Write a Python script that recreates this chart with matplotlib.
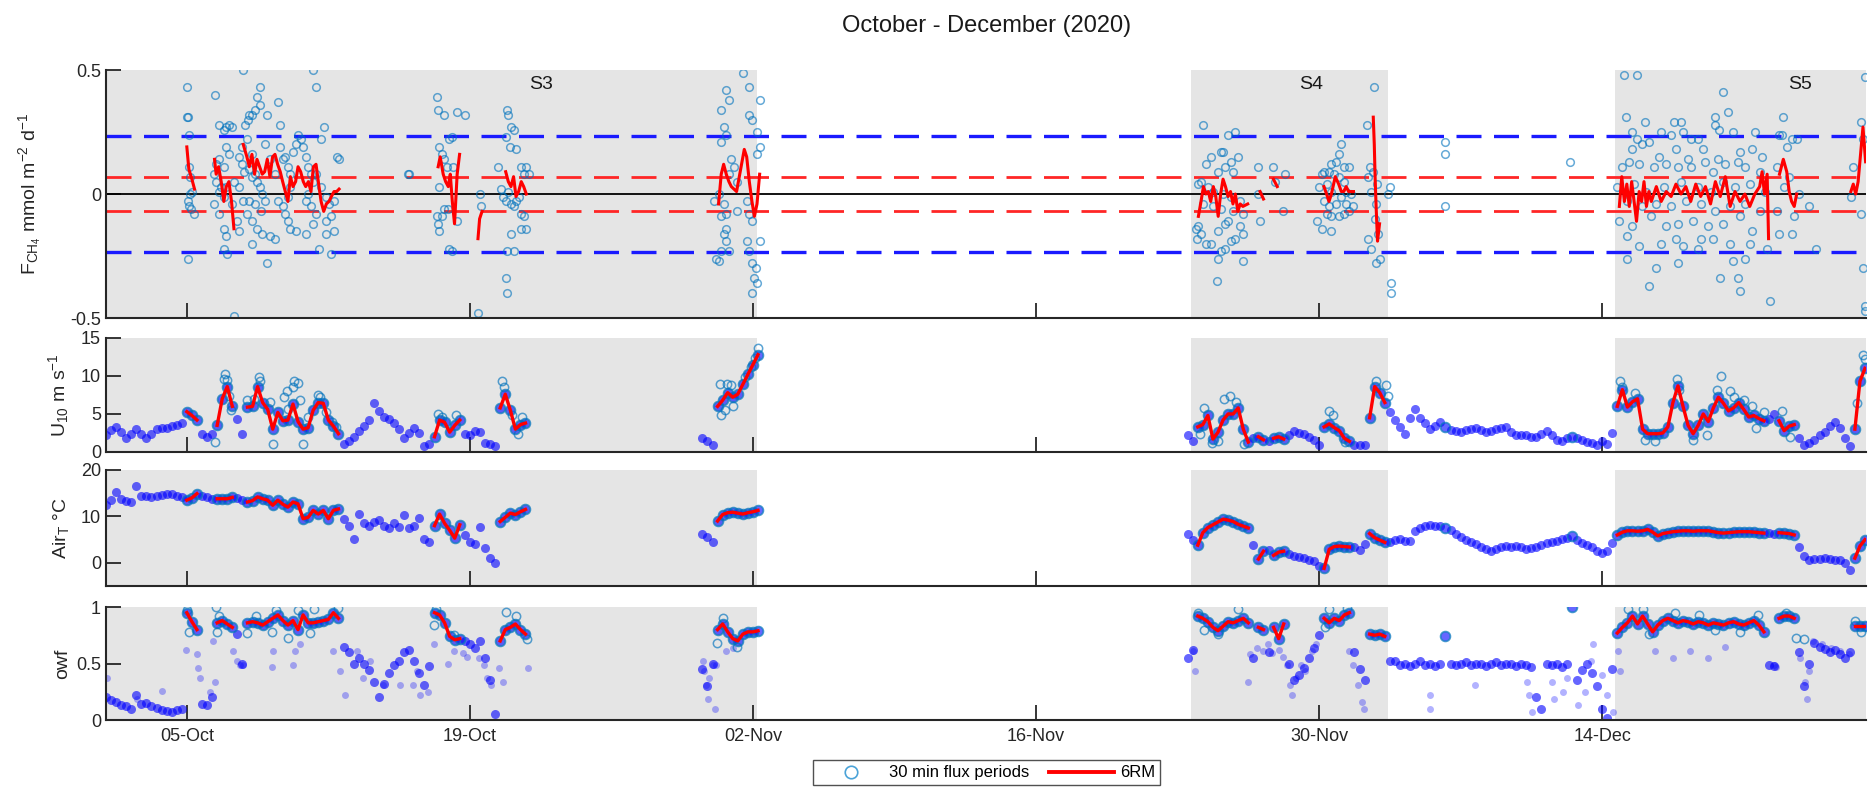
import numpy as np
import matplotlib
matplotlib.use("Agg")
import matplotlib.pyplot as plt
import matplotlib.dates as mdates
from matplotlib.lines import Line2D

plt.rcParams['font.family'] = ['Liberation Sans', 'DejaVu Sans']
plt.rcParams['mathtext.default'] = 'regular'
plt.rcParams['axes.unicode_minus'] = False
plt.rcParams['lines.scale_dashes'] = False

# ---------------------------------------------------------------------------
# Time base: days since 1 Oct 2020; met records sampled every 6 h
# ---------------------------------------------------------------------------
START = np.datetime64('2020-10-01T00:00')
STEP = 0.25
seg_start = [0.0, 29.5, 53.5]

# Wind speed at 10 m (m s-1)
u10_a = [
    2.2, 2.9, 3.3, 2.6, 1.8, 2.4, 3.0, 2.4,
    1.8, 2.3, 3.0, 3.2, 3.1, 3.4, 3.5, 3.8,
    5.3, 4.8, 4.2, 2.4, 2.0, 2.3, 3.5, 7.0,
    8.6, 6.0, 4.3, 2.4, 5.9, 6.0, 8.6, 6.5,
    5.6, 3.0, 5.2, 4.1, 4.2, 6.3, 4.0, 3.0,
    3.2, 5.5, 6.5, 6.4, 4.2, 3.4, 2.4, 1.0,
    1.4, 2.0, 2.8, 3.4, 4.2, 6.4, 5.4, 4.6,
    4.4, 3.8, 3.0, 1.8, 2.5, 3.2, 2.5, 0.8,
    1.0, 2.0, 4.2, 3.9, 2.6, 3.5, 4.2, 2.4,
    2.2, 2.8, 2.6, 1.2, 1.0, 0.8, 5.8, 7.6,
    5.5, 3.0, 3.6, 3.8,
]
u10_b = [1.9, 1.4, 0.9, 6.0, 6.8, 7.8, 7.2, 7.6, 8.9, 10.2, 11.5, 12.8]
u10_c = [
    2.2, 1.5, 3.3, 3.6, 4.8, 1.7, 2.6, 4.2,
    5.0, 5.0, 5.8, 3.0, 1.3, 1.8, 2.0, 1.6,
    1.5, 1.8, 2.0, 1.7, 2.2, 2.8, 2.5, 2.3,
    2.0, 1.6, 0.9, 3.3, 3.7, 3.2, 2.8, 1.8,
    1.4, 0.9, 0.9, 0.9, 4.5, 8.6, 7.8, 6.5,
    5.2, 4.2, 3.3, 2.4, 4.5, 5.6, 4.5, 3.8,
    3.0, 3.4, 3.9, 3.3, 2.9, 2.7, 2.6, 2.9,
    3.0, 3.1, 2.9, 2.6, 2.8, 3.0, 3.2, 3.3,
    2.6, 2.2, 2.2, 2.2, 2.0, 2.0, 2.4, 2.8,
    2.2, 1.6, 1.5, 1.8, 2.0, 1.9, 1.6, 1.3,
    1.2, 0.9, 1.4, 1.0, 2.5, 6.0, 8.2, 5.9,
    6.6, 7.0, 3.0, 2.4, 2.4, 2.4, 2.5, 3.3,
    6.5, 8.7, 6.0, 3.5, 2.4, 3.5, 5.0, 4.0,
    5.8, 7.2, 6.4, 5.4, 5.8, 6.5, 5.6, 4.6,
    4.8, 4.4, 4.1, 4.3, 5.0, 4.1, 2.8, 3.4,
    3.6, 1.9, 0.9, 1.2, 1.6, 2.2, 2.6, 3.4,
    4.0, 3.2, 1.8, 0.8, 3.0, 9.3, 11.0,
]

# Air temperature (deg C)
air_a = [
    12.5, 13.5, 15.3, 13.8, 13.3, 13.1, 16.5, 14.5,
    14.4, 14.2, 14.4, 14.6, 14.8, 14.9, 14.5, 14.2,
    13.5, 14.0, 14.9, 14.4, 14.1, 13.8, 13.8, 13.8,
    13.8, 14.1, 14.0, 13.5, 13.1, 13.4, 14.2, 13.8,
    13.5, 12.4, 13.5, 12.6, 12.0, 13.1, 12.7, 9.5,
    9.8, 11.3, 10.5, 11.3, 9.5, 11.3, 11.6, 9.5,
    8.0, 5.1, 10.6, 8.5, 8.0, 8.7, 9.3, 8.0,
    7.6, 8.5, 7.8, 10.2, 7.5, 8.0, 9.6, 5.2,
    4.5, 8.0, 10.5, 8.5, 7.0, 5.3, 8.2, 6.0,
    4.5, 4.0, 7.8, 3.2, 1.0, 0.0, 8.9, 9.8,
    10.7, 10.4, 11.0, 11.5,
]
air_b = [6.3, 5.5, 4.5, 9.0, 10.4, 10.8, 10.9, 10.7, 10.5, 10.8, 11.0, 11.3]
air_c = [
    6.2, 5.0, 3.8, 6.5, 7.6, 8.2, 8.8, 9.4,
    9.2, 8.9, 8.3, 7.9, 7.5, 3.8, 0.8, 2.5,
    2.7, 1.6, 2.3, 2.5, 1.8, 1.4, 1.2, 1.0,
    0.7, 0.3, -0.6, -1.2, 2.9, 3.5, 3.6, 3.5,
    3.4, 3.3, 2.8, 4.0, 6.3, 5.4, 4.9, 4.4,
    4.4, 4.9, 5.1, 4.6, 4.6, 6.8, 7.5, 8.0,
    8.1, 8.0, 7.9, 7.4, 7.0, 6.3, 5.6, 4.9,
    4.4, 4.0, 3.5, 3.0, 2.6, 3.0, 3.5, 3.6,
    3.4, 3.6, 3.3, 2.9, 3.1, 3.3, 3.8, 4.2,
    4.5, 4.8, 5.1, 5.4, 5.8, 5.0, 4.3, 3.8,
    3.3, 2.6, 2.2, 2.6, 4.2, 6.0, 6.6, 6.9,
    6.9, 6.8, 6.9, 7.2, 6.6, 5.8, 6.3, 6.5,
    6.7, 6.8, 6.9, 6.9, 6.8, 6.9, 6.9, 6.9,
    6.7, 6.5, 6.4, 6.5, 6.6, 6.7, 6.7, 6.7,
    6.6, 6.5, 6.4, 6.4, 6.3, 6.5, 6.4, 6.3,
    6.0, 3.5, 1.5, 0.7, 0.8, 0.9, 1.0, 0.8,
    0.7, 0.5, 0.0, -1.5, 1.0, 3.6, 5.0,
]

# Open-water fraction
owf_a = [
    0.20, 0.18, 0.16, 0.13, 0.12, 0.10, 0.22, 0.14,
    0.15, 0.12, 0.11, 0.09, 0.08, 0.07, 0.09, 0.10,
    0.95, 0.87, 0.80, 0.14, 0.13, 0.20, 0.86, 0.88,
    0.85, 0.82, 0.76, 0.50, 0.86, 0.87, 0.86, 0.84,
    0.87, 0.90, 0.93, 0.88, 0.84, 0.88, 0.80, 0.93,
    0.86, 0.86, 0.87, 0.88, 0.89, 0.95, 0.90, 0.65,
    0.60, 0.50, 0.55, 0.50, 0.44, 0.34, 0.20, 0.32,
    0.42, 0.49, 0.52, 0.60, 0.62, 0.52, 0.42, 0.31,
    0.48, 0.95, 0.93, 0.86, 0.74, 0.71, 0.72, 0.70,
    0.67, 0.64, 0.70, 0.55, 0.35, 0.05, 0.70, 0.80,
    0.82, 0.85, 0.80, 0.76,
]
owf_b = [0.45, 0.30, 0.50, 0.80, 0.85, 0.78, 0.72, 0.70, 0.76, 0.78, 0.78, 0.79]
owf_c = [
    0.55, 0.62, 0.92, 0.90, 0.87, 0.82, 0.79, 0.83,
    0.87, 0.86, 0.88, 0.90, 0.86, 0.55, 0.82, 0.80,
    0.60, 0.82, 0.72, 0.85, 0.50, 0.35, 0.40, 0.46,
    0.55, 0.64, 0.75, 0.90, 0.86, 0.90, 0.88, 0.93,
    0.95, 0.60, 0.45, 0.35, 0.76, 0.75, 0.76, 0.74,
    0.52, 0.52, 0.49, 0.50, 0.48, 0.50, 0.52, 0.49,
    0.50, 0.48, 0.50, 0.74, 0.50, 0.49, 0.50, 0.51,
    0.49, 0.50, 0.50, 0.48, 0.50, 0.51, 0.49, 0.50,
    0.50, 0.48, 0.50, 0.49, 0.47, 0.20, 0.10, 0.50,
    0.49, 0.50, 0.47, 0.50, 1.00, 0.35, 0.44, 0.50,
    0.42, 0.30, 0.10, 0.02, 0.45, 0.77, 0.82, 0.86,
    0.92, 0.85, 0.92, 0.85, 0.78, 0.84, 0.88, 0.90,
    0.88, 0.86, 0.88, 0.87, 0.85, 0.87, 0.86, 0.84,
    0.86, 0.85, 0.84, 0.86, 0.87, 0.85, 0.84, 0.86,
    0.88, 0.84, 0.78, 0.49, 0.48, 0.90, 0.92, 0.92,
    0.90, 0.60, 0.30, 0.50, 0.68, 0.65, 0.63, 0.60,
    0.62, 0.58, 0.55, 0.60, 0.83, 0.83, 0.83,
]

# Additional scattered open-water-fraction samples (day, value)
owf_scatter = [
    (0.03, 0.37), (1.52, 0.19), (2.75, 0.26), (3.96, 0.62), (4.49, 0.58),
    (4.57, 0.46), (4.65, 0.37), (5.15, 0.25), (5.31, 0.70), (5.39, 0.34),
    (6.30, 0.61), (6.47, 0.52), (6.63, 0.49), (6.80, 0.49), (8.20, 0.47),
    (8.28, 0.61), (9.27, 0.49), (9.35, 0.61), (9.60, 0.67), (11.25, 0.61),
    (11.58, 0.43), (11.83, 0.22), (12.40, 0.61), (12.73, 0.37), (13.06, 0.52),
    (13.72, 0.31), (14.55, 0.31), (15.21, 0.31), (15.37, 0.43), (15.54, 0.22),
    (15.95, 0.25), (16.20, 0.67), (16.94, 0.50), (17.19, 0.61), (17.68, 0.59),
    (17.85, 0.56), (18.46, 0.55), (18.71, 0.49), (18.87, 0.37), (19.04, 0.31),
    (19.45, 0.46), (19.62, 0.34), (20.86, 0.46), (29.52, 0.52), (29.60, 0.43),
    (29.69, 0.31), (29.77, 0.19), (29.85, 0.37), (30.02, 0.49), (30.10, 0.10),
    (30.18, 0.49), (30.68, 0.61), (31.00, 0.64), (53.75, 0.61), (53.86, 0.43),
    (56.47, 0.34), (56.58, 0.58), (56.91, 0.64), (57.23, 0.61), (57.45, 0.67),
    (57.67, 0.59), (58.00, 0.62), (58.21, 0.56), (58.43, 0.49), (58.54, 0.31),
    (58.65, 0.22), (58.87, 0.37), (59.09, 0.49), (59.30, 0.43), (59.63, 0.61),
    (59.85, 0.67), (61.48, 0.61), (61.70, 0.49), (61.92, 0.31), (62.13, 0.16),
    (62.24, 0.10), (65.51, 0.22), (65.51, 0.10), (67.69, 0.31), (70.30, 0.34),
    (70.40, 0.22), (70.52, 0.07), (71.50, 0.34), (71.60, 0.19), (72.04, 0.25),
    (72.26, 0.37), (72.80, 0.13), (73.13, 0.25), (73.46, 0.52), (73.56, 0.67),
    (74.00, 0.40), (74.22, 0.22), (74.54, 0.07), (74.76, 0.61), (74.87, 0.43),
    (76.61, 0.61), (77.48, 0.55), (78.35, 0.61), (79.23, 0.55), (80.10, 0.65),
    (82.49, 0.49), (82.60, 0.47), (83.80, 0.55), (84.02, 0.34), (84.12, 0.19),
    (84.23, 0.43), (84.45, 0.70), (84.89, 0.67), (85.32, 0.64), (85.76, 0.61),
    (86.19, 0.58),
]

# Individual 30-min values spreading around the wind-speed record (day, m s-1)
u10_flux_spread = [
    (5.39, 1.3), (5.85, 9.6), (5.9, 10.2), (6.0, 9.5), (6.1, 7.3), (6.2, 5.5),
    (7.0, 6.8), (7.3, 7.0), (7.55, 9.9), (7.6, 9.3), (8.1, 6.6), (8.28, 1.1),
    (8.8, 7.2), (8.94, 8.0), (9.0, 5.6), (9.25, 8.6), (9.3, 9.3), (9.52, 9.1),
    (9.6, 6.8), (9.76, 1.1), (10.0, 4.6), (10.5, 7.5), (10.6, 7.2), (10.9, 5.3),
    (11.2, 4.0), (11.4, 3.3), (16.4, 5.0), (16.6, 4.6), (17.3, 4.8),
    (19.6, 9.3), (19.7, 8.6), (20.1, 4.9), (20.4, 2.3), (20.6, 4.6),
    (30.35, 9.0), (30.4, 4.9), (30.6, 5.5), (30.7, 9.0), (30.9, 8.8), (31.0, 6.0),
    (31.6, 9.8), (31.9, 11.2), (32.1, 12.3), (32.25, 13.7),
    (54.1, 2.3), (54.3, 5.8), (54.7, 1.2), (55.0, 1.4), (55.3, 7.0), (55.6, 7.4),
    (55.9, 6.6), (56.3, 1.0), (60.5, 5.4), (60.7, 4.8), (61.3, 1.3),
    (62.8, 9.3), (63.3, 8.8), (63.4, 7.3),
    (74.9, 9.3), (75.0, 8.5), (75.6, 7.8), (76.1, 1.6), (76.6, 1.5), (77.7, 9.6),
    (77.8, 8.2), (78.5, 1.6), (79.2, 2.2), (79.7, 8.2), (79.9, 10.0), (80.3, 8.0),
    (80.5, 7.2), (81.0, 6.8), (81.4, 6.0), (81.6, 3.2), (82.0, 5.2), (82.9, 5.4),
    (83.3, 2.0), (86.6, 6.5), (86.9, 12.8), (87.0, 12.2),
]

# Individual 30-min values spreading around the open-water record (day, fraction)
owf_flux_spread = [
    (4.0, 0.97), (4.1, 0.78), (5.45, 1.0), (5.5, 0.78), (5.6, 0.92), (7.0, 0.77),
    (7.4, 0.92), (8.2, 0.78), (8.4, 0.97), (9.0, 0.73), (9.5, 0.97), (10.1, 0.77),
    (10.3, 0.98), (11.5, 0.99), (16.2, 0.84), (16.3, 0.98), (17.2, 0.75),
    (19.8, 0.96), (20.3, 0.92), (20.8, 0.72), (30.2, 0.68), (30.5, 0.9),
    (31.2, 0.65), (54.0, 0.95), (54.3, 0.8), (55.0, 0.76), (56.0, 0.98),
    (60.3, 0.82), (60.5, 0.98), (61.4, 0.99), (75.3, 0.98), (76.0, 0.98),
    (76.3, 0.76), (77.6, 0.95), (78.8, 0.93), (79.6, 0.8), (80.8, 0.78),
    (81.7, 0.93), (83.1, 0.95), (83.6, 0.73), (84.0, 0.72), (86.5, 0.88),
    (86.8, 0.78),
]

# Windows (start day, end day) with valid 30-min flux periods
flux_windows = [
    (3.95, 4.5), (5.35, 6.45), (6.8, 11.6), (16.2, 17.5), (19.3, 20.95),
    (30.1, 32.3), (53.9, 56.5), (56.95, 57.3), (57.7, 58.35), (60.1, 61.6),
    (62.45, 63.3), (66.15, 66.3), (72.4, 72.55), (74.6, 82.2),
    (82.6, 83.65), (86.3, 87.1),
]

# CH4 flux, 30-min periods (day, mmol m-2 d-1)
flux_obs = [
    # 5 Oct
    (4.0, 0.43), (4.0, 0.31), (4.05, 0.31), (4.1, 0.24), (4.1, 0.11), (4.18, 0.07),
    (4.25, 0.01), (4.05, -0.03), (4.1, -0.05), (4.36, -0.08), (4.05, -0.26),
    (4.15, 0.0), (4.2, -0.06),
    # 6-12 Oct
    (5.39, 0.40), (5.57, 0.28), (5.83, 0.26), (5.95, 0.27), (6.08, 0.28), (6.21, 0.27),
    (5.95, 0.19), (6.08, 0.16), (5.45, 0.12), (5.57, 0.14), (5.83, 0.11), (5.32, 0.08),
    (5.45, 0.05), (5.70, 0.03), (5.95, 0.03), (5.57, 0.01), (5.83, -0.01), (5.32, -0.04),
    (5.57, -0.08), (5.83, -0.14), (5.95, -0.17), (5.83, -0.22), (6.0, -0.24),
    (6.33, -0.49), (6.79, 0.50), (6.89, 0.28), (7.02, 0.30), (7.09, 0.32), (7.22, 0.32),
    (7.35, 0.34), (7.60, 0.36), (7.47, 0.39), (7.60, 0.43), (7.98, 0.32), (8.49, 0.37),
    (8.62, 0.28), (8.87, 0.15), (6.59, 0.15), (6.71, 0.12), (6.84, 0.09), (7.09, 0.10),
    (7.22, 0.07), (7.35, 0.08), (7.47, 0.05), (7.60, 0.03), (7.73, 0.0), (7.09, -0.03),
    (7.35, -0.04), (6.97, -0.08), (7.22, -0.11), (7.47, -0.14), (7.73, -0.16),
    (7.22, -0.20), (7.98, -0.28), (8.11, -0.17), (8.36, -0.18), (8.49, -0.03),
    (8.74, -0.05), (8.87, -0.08), (9.0, -0.11), (9.12, -0.14), (8.62, 0.19),
    (8.74, 0.14), (9.0, 0.11), (9.12, 0.08), (9.25, 0.17), (9.38, 0.20), (9.5, 0.24),
    (9.63, 0.22), (9.76, 0.19), (9.88, 0.15), (10.01, 0.11), (10.14, 0.08),
    (10.26, 0.05), (10.01, 0.0), (9.88, -0.03), (10.14, -0.05), (10.39, -0.08),
    (10.26, -0.12), (10.52, -0.22), (10.64, 0.22), (10.77, 0.27), (10.39, 0.08),
    (10.64, 0.03), (10.9, -0.01), (11.03, -0.04), (11.15, -0.09), (11.28, -0.15),
    (11.41, 0.15), (11.53, 0.14), (10.9, -0.16), (11.15, -0.24), (10.9, -0.11),
    (11.28, -0.03), (9.88, -0.16), (9.38, -0.15), (9.12, 0.03), (9.0, -0.01),
    (6.97, 0.22), (6.71, 0.19), (7.22, 0.16), (7.85, 0.20), (8.11, 0.14), (8.36, 0.08),
    (7.85, -0.03), (7.65, -0.07), (6.79, -0.03), (6.59, 0.03), (6.33, 0.05),
    (6.21, -0.04), (6.46, -0.11), (6.59, -0.15), (10.26, 0.50), (10.39, 0.43),
    # 15-19 Oct
    (14.92, 0.08), (14.98, 0.08),
    (16.35, 0.39), (16.43, 0.34), (16.73, 0.32), (16.98, 0.22), (17.11, 0.23),
    (17.37, 0.33), (17.75, 0.32), (16.48, 0.19), (16.6, 0.16), (16.73, 0.14),
    (16.86, 0.11), (16.48, 0.03), (16.35, -0.09), (16.43, -0.12), (16.48, -0.15),
    (16.6, -0.09), (16.73, -0.06), (16.93, -0.06), (16.98, -0.22), (17.11, -0.23),
    (17.37, -0.11), (17.16, 0.11),
    (18.5, 0.0), (18.55, -0.05), (18.38, -0.48),
    # 20-21 Oct
    (19.85, 0.34), (19.9, 0.32), (20.03, 0.27), (20.16, 0.26), (19.77, 0.23),
    (19.98, 0.19), (20.28, 0.18), (20.54, 0.11), (20.66, 0.08), (20.79, 0.11),
    (19.39, 0.11), (19.52, 0.02), (19.65, -0.01), (19.77, -0.03), (19.9, 0.01),
    (20.03, -0.04), (20.16, -0.05), (20.28, -0.03), (20.41, -0.01), (20.54, -0.08),
    (20.66, -0.09), (20.79, -0.14), (20.03, -0.16), (20.16, -0.23), (19.77, -0.34),
    (19.85, -0.40), (20.54, -0.14), (20.92, 0.08), (19.85, -0.23),
    # 31 Oct - 2 Nov
    (31.49, 0.49), (31.82, 0.43), (30.68, 0.42), (30.81, 0.38), (30.43, 0.34),
    (32.33, 0.38), (31.82, 0.32), (31.95, 0.30), (32.2, 0.25), (30.55, 0.27),
    (30.68, 0.24), (30.43, 0.21), (30.93, 0.14), (31.06, 0.11), (30.81, 0.08),
    (31.19, 0.05), (32.2, 0.16), (32.33, 0.19), (30.05, -0.03), (30.3, 0.0),
    (30.55, -0.04), (30.68, -0.08), (30.43, -0.09), (30.68, -0.14), (30.55, -0.16),
    (30.68, -0.19), (30.81, -0.23), (30.17, -0.26), (30.3, -0.27), (30.43, -0.23),
    (31.69, -0.03), (31.82, -0.08), (31.95, -0.11), (31.69, -0.19), (31.82, -0.23),
    (31.95, -0.28), (32.07, -0.34), (32.2, -0.36), (31.95, -0.40), (32.15, -0.30),
    (32.33, -0.19), (31.19, -0.07),
    # 24-27 Nov
    (54.28, 0.28), (55.5, 0.24), (55.86, 0.25), (55.13, 0.17), (55.25, 0.17),
    (54.64, 0.15), (55.98, 0.15), (55.62, 0.13), (54.4, 0.12), (55.37, 0.11),
    (55.01, 0.09), (55.74, 0.09), (54.03, 0.04), (54.16, 0.05), (54.52, 0.03),
    (54.77, 0.01), (55.25, 0.0), (55.62, -0.01), (56.1, -0.03), (54.28, -0.04),
    (54.77, -0.05), (55.13, -0.06), (55.74, -0.07), (56.23, -0.08), (54.03, -0.13),
    (54.16, -0.16), (54.4, -0.20), (54.64, -0.20), (55.01, -0.15), (55.37, -0.12),
    (55.5, -0.11), (55.62, -0.19), (55.86, -0.18), (56.1, -0.13), (56.23, -0.16),
    (55.13, -0.23), (55.37, -0.22), (55.01, -0.26), (56.23, -0.27), (54.96, -0.35),
    (53.91, -0.14), (53.98, -0.18),
    (57.0, 0.0), (57.08, -0.11), (57.0, 0.11), (57.74, 0.11), (57.8, 0.05),
    (58.3, 0.08), (58.22, -0.07),
    # 30 Nov - 3 Dec
    (61.1, 0.20), (60.97, 0.16), (60.85, 0.13), (60.61, 0.12), (60.49, 0.09),
    (60.24, 0.09), (60.12, 0.08), (60.73, 0.08), (61.22, 0.11), (61.46, 0.11),
    (60.97, 0.07), (61.22, 0.05), (60.37, 0.04), (60.0, 0.03), (60.61, 0.01),
    (61.34, 0.01), (61.58, 0.0), (61.1, -0.01), (60.24, -0.03), (60.49, -0.05),
    (60.85, -0.04), (61.34, -0.04), (61.7, -0.05), (60.37, -0.08), (60.61, -0.09),
    (60.97, -0.09), (61.22, -0.08), (61.46, -0.07), (59.88, -0.11), (60.61, -0.15),
    (60.12, -0.14),
    (62.73, 0.43), (62.39, 0.28), (62.51, 0.11), (62.43, 0.07), (62.68, 0.09),
    (62.8, -0.04), (62.87, 0.04), (62.56, 0.01), (62.75, -0.10), (62.92, -0.16),
    (62.43, -0.18), (62.56, -0.22), (62.8, -0.28), (62.99, -0.26), (63.53, 0.03),
    (63.41, 0.0), (63.58, -0.36), (63.58, -0.40),
    (66.21, 0.21), (66.21, 0.16), (66.21, -0.05), (72.42, 0.13),
    # 15-27 Dec
    (75.1, 0.48), (75.7, 0.48), (79.97, 0.41), (79.6, 0.31), (80.21, 0.33),
    (75.17, 0.31), (76.14, 0.29), (82.96, 0.31), (82.89, 0.24), (77.53, 0.29),
    (77.9, 0.29), (75.46, 0.25), (75.7, 0.22), (76.31, 0.21), (76.92, 0.25),
    (77.41, 0.24), (78.02, 0.25), (78.38, 0.22), (78.75, 0.22), (79.6, 0.28),
    (79.8, 0.26), (80.45, 0.25), (81.55, 0.25), (82.77, 0.24), (83.37, 0.22),
    (83.62, 0.22), (86.78, 0.29), (86.9, 0.22), (75.46, 0.18), (75.95, 0.20),
    (76.8, 0.15), (77.65, 0.18), (78.26, 0.14), (78.99, 0.18), (79.72, 0.14),
    (80.82, 0.17), (81.43, 0.18), (81.91, 0.15), (83.13, 0.19), (74.97, 0.11),
    (75.34, 0.13), (75.83, 0.12), (76.56, 0.11), (77.17, 0.12), (77.77, 0.11),
    (78.38, 0.11), (79.11, 0.13), (79.48, 0.09), (80.09, 0.12), (80.7, 0.13),
    (81.06, 0.11), (81.79, 0.09), (82.64, 0.11), (83.25, 0.07), (86.42, 0.11),
    (74.73, 0.03), (75.58, 0.04), (76.19, 0.01), (77.04, 0.03), (77.9, 0.05),
    (78.75, 0.03), (79.36, 0.01), (79.97, 0.05), (80.57, 0.03), (81.3, 0.04),
    (82.03, 0.01), (83.01, 0.03), (83.74, 0.0), (84.23, -0.05), (86.3, -0.01),
    (75.22, -0.03), (75.95, -0.05), (76.68, -0.04), (77.41, -0.05), (78.14, -0.03),
    (78.87, -0.04), (79.6, -0.07), (80.33, -0.05), (81.06, -0.04), (81.79, -0.07),
    (82.64, -0.07), (83.5, -0.09), (74.85, -0.11), (75.46, -0.13), (76.43, -0.09),
    (77.17, -0.13), (77.77, -0.12), (78.5, -0.11), (79.24, -0.13), (79.97, -0.12),
    (80.82, -0.09), (81.43, -0.15), (82.77, -0.16), (83.37, -0.16), (86.78, -0.08),
    (75.22, -0.17), (75.83, -0.21), (76.92, -0.20), (77.65, -0.18), (78.02, -0.21),
    (78.87, -0.18), (79.48, -0.18), (80.33, -0.20), (81.3, -0.20), (82.16, -0.22),
    (75.22, -0.26), (76.68, -0.30), (77.77, -0.28), (78.75, -0.22), (80.45, -0.27),
    (81.06, -0.26), (84.59, -0.22), (86.9, -0.30), (76.31, -0.37), (79.84, -0.34),
    (80.7, -0.34), (80.82, -0.39), (82.28, -0.43), (87.0, -0.45), (87.0, -0.47),
    (87.0, 0.47),
]

# Six-point running mean of the CH4 flux; None separates gaps
flux_rm = [
    (4.0, 0.19), (4.1, 0.10), (4.25, 0.06), (4.38, 0.02), None,
    (5.37, 0.14), (5.45, 0.08), (5.57, 0.11), (5.70, 0.05), (5.83, -0.03),
    (5.95, 0.03), (6.08, 0.05), (6.21, -0.03), (6.33, -0.14), None,
    (6.79, 0.20), (6.97, 0.15), (7.09, 0.11), (7.22, 0.16), (7.35, 0.08), (7.47, 0.14),
    (7.6, 0.11), (7.73, 0.08), (7.85, 0.09), (7.98, 0.14), (8.11, 0.07), (8.24, 0.15),
    (8.36, 0.16), (8.49, 0.12), (8.62, 0.09), (8.74, 0.05), (8.87, 0.01), (9.0, -0.03),
    (9.12, 0.07), (9.25, 0.03), (9.38, 0.05), (9.5, 0.11), (9.63, 0.09), (9.76, 0.05),
    (9.88, 0.03), (10.01, 0.05), (10.14, 0.01), (10.26, 0.11), (10.39, 0.12),
    (10.52, 0.04), (10.64, -0.03), (10.77, -0.07), (10.9, -0.04), (11.03, -0.03),
    (11.15, -0.01), (11.28, 0.01), (11.41, 0.01), (11.53, 0.02), None,
    (16.43, 0.11), (16.53, 0.15), (16.68, 0.08), (16.8, 0.05), (16.93, 0.03),
    (17.03, 0.08), (17.13, -0.03), (17.24, -0.12), (17.37, 0.08), (17.49, 0.16), None,
    (18.4, -0.18), (18.48, -0.10), (18.6, -0.07), None,
    (19.77, 0.09), (19.9, 0.05), (20.03, 0.03), (20.16, 0.07), (20.28, -0.01),
    (20.41, 0.01), (20.54, 0.05), (20.66, 0.03), (20.79, 0.0), None,
    (30.3, -0.04), (30.43, 0.08), (30.55, 0.12), (30.68, 0.08), (30.81, 0.05),
    (30.93, 0.03), (31.19, 0.01), (31.57, 0.18), (31.69, 0.15), (31.82, 0.05),
    (31.95, -0.03), (32.07, -0.09), (32.2, -0.04), (32.33, 0.08), None,
    (54.03, -0.09), (54.16, -0.03), (54.28, 0.03), (54.4, 0.0), (54.52, 0.01),
    (54.64, -0.03), (54.77, 0.03), (54.89, -0.01), (55.01, -0.09), (55.13, 0.0),
    (55.25, 0.06), (55.37, 0.03), (55.5, -0.01), (55.62, 0.01), (55.74, -0.04),
    (55.86, 0.0), (55.98, -0.07), (56.1, -0.04), (56.23, -0.05), (56.47, -0.04), None,
    (57.08, 0.01), (57.25, -0.02), None, (57.74, 0.06), (57.93, 0.03), None,
    (60.24, 0.03), (60.37, 0.0), (60.49, -0.03), (60.61, 0.0), (60.8, 0.07),
    (60.97, 0.04), (61.1, 0.01), (61.22, 0.01), (61.34, 0.03), (61.46, 0.01),
    (61.7, 0.01), None,
    (62.68, 0.31), (62.73, 0.20), (62.77, 0.07), (62.82, -0.05), (62.89, -0.19),
    (62.99, -0.12), None,
    (74.85, -0.05), (74.97, 0.07), (75.1, -0.03), (75.22, 0.04), (75.34, -0.05),
    (75.46, 0.05), (75.58, -0.03), (75.7, -0.11), (75.83, 0.01), (75.95, -0.03),
    (76.07, 0.05), (76.19, -0.05), (76.31, 0.01), (76.43, -0.03), (76.68, 0.03),
    (76.92, -0.03), (77.17, 0.01), (77.41, -0.01), (77.65, 0.04), (77.9, 0.0),
    (78.14, 0.03), (78.38, -0.03), (78.63, 0.04), (78.87, -0.01), (79.11, 0.03),
    (79.36, -0.04), (79.6, 0.05), (79.84, -0.01), (80.09, 0.07), (80.33, -0.05),
    (80.57, 0.01), (80.82, -0.03), (81.06, 0.0), (81.3, -0.05), (81.55, 0.0),
    (81.79, 0.03), (81.91, 0.09), (82.03, 0.0), (82.16, 0.08), (82.23, -0.18), None,
    (82.77, 0.08), (82.96, 0.14), (83.13, 0.09), (83.25, 0.01), (83.37, -0.03),
    (83.5, -0.05), (83.62, 0.0), None,
    (86.3, 0.01), (86.42, 0.04), (86.54, 0.0), (86.66, 0.05), (86.9, 0.27),
    (87.03, 0.13),
]

# Sampling campaigns (start day, end day, label, label day)
campaigns = [(0.0, 32.2, 'S3', 21.5), (53.68, 63.4, 'S4', 59.6), (74.62, 87.1, 'S5', 83.8)]
flux_limits_outer = 0.235
flux_limits_inner = 0.067
tick_dates = ['2020-10-05', '2020-10-19', '2020-11-02', '2020-11-16', '2020-11-30', '2020-12-14']

# ---------------------------------------------------------------------------
BASE = mdates.date2num(START.astype('datetime64[s]').astype(object))


def tnum(days):
    return BASE + np.asarray(days, dtype=float)


def series(parts):
    days, vals = [], []
    for start, vals_i in zip(seg_start, parts):
        days.append(start + STEP * np.arange(len(vals_i)))
        vals.append(np.asarray(vals_i, dtype=float))
    return np.concatenate(days), np.concatenate(vals)


def in_windows(d):
    m = np.zeros(len(d), dtype=bool)
    for a, b in flux_windows:
        m |= (d >= a) & (d <= b)
    return m


def unzip(pairs):
    return (np.array([p[0] for p in pairs], dtype=float),
            np.array([p[1] for p in pairs], dtype=float))


C_CIRC = '#0072BD'
C_DOT = (0.0, 0.0, 1.0)
C_GREY = '#e5e5e5'
C_AX = '#262626'
XMAX = 87.05
FS_TICK = 13
FS_LAB = 14

fig = plt.figure(figsize=(18.72, 7.87), dpi=100)
L, W = 0.0566, 0.9402
rects = [
    [L, 0.5959, W, 0.3151],
    [L, 0.4257, W, 0.1449],
    [L, 0.2554, W, 0.1474],
    [L, 0.0851, W, 0.1436],
]
axes = [fig.add_axes(r) for r in rects]

for ax in axes:
    for a, b, _, _ in campaigns:
        ax.axvspan(tnum(a), tnum(min(b, XMAX)), color=C_GREY, lw=0, zorder=0)
    ax.set_xlim(tnum(0), tnum(XMAX))
    for s in ('top', 'right'):
        ax.spines[s].set_visible(False)
    for s in ('left', 'bottom'):
        ax.spines[s].set_color(C_AX)
        ax.spines[s].set_linewidth(1.5)
        ax.spines[s].set_zorder(5)
    ax.tick_params(direction='in', length=11, width=1.3, color=C_AX,
                   labelsize=FS_TICK, labelcolor=C_AX)
    ax.set_xticks([mdates.date2num(np.datetime64(t).astype(object)) for t in tick_dates])
    ax.xaxis.set_major_formatter(mdates.DateFormatter('%d-%b'))
    ax.set_facecolor('white')

# --- Panel 1: CH4 flux -----------------------------------------------------
ax = axes[0]
ax.set_ylim(-0.5, 0.5)
ax.set_yticks([-0.5, 0, 0.5])
ax.set_yticklabels(['-0.5', '0', '0.5'])
ax.axhline(0, color='black', lw=1.3, zorder=2)
for v in (flux_limits_inner, -flux_limits_inner):
    ax.axhline(v, color=(1, 0.15, 0.15), lw=2.0, dashes=(18, 9), zorder=2)
for v in (flux_limits_outer, -flux_limits_outer):
    ax.axhline(v, color=(0.1, 0.1, 1.0), lw=2.4, dashes=(18, 9), zorder=2)
fd, fv = unzip(flux_obs)
ax.plot(tnum(fd), fv, 'o', ms=5.5, mfc='none', mec=C_CIRC, mew=1.1, alpha=0.6, zorder=3)
rd = np.array([np.nan if p is None else p[0] for p in flux_rm])
rv = np.array([np.nan if p is None else p[1] for p in flux_rm])
ax.plot(tnum(rd), rv, '-', color='red', lw=2.2, zorder=4)
for a, b, lab, xl in campaigns:
    ax.text(tnum(xl), 0.44, lab, ha='center', va='center', fontsize=14, color='#1a1a1a')
ax.set_ylabel(r'F$_{CH_4}$ mmol m$^{-2}$ d$^{-1}$', fontsize=FS_LAB, color=C_AX)
ax.yaxis.set_label_coords(-0.036, 0.5)
ax.tick_params(labelbottom=False)

# --- Panels 2-4: meteorology ----------------------------------------------
met = [
    (axes[1], series([u10_a, u10_b, u10_c]), (0, 15), [0, 5, 10, 15], ['0', '5', '10', '15'],
     r'U$_{10}$ m s$^{-1}$', u10_flux_spread),
    (axes[2], series([air_a, air_b, air_c]), (-5, 20), [0, 10, 20], ['0', '10', '20'],
     r'Air$_T$ °C', None),
    (axes[3], series([owf_a, owf_b, owf_c]), (0, 1), [0, 0.5, 1], ['0', '0.5', '1'],
     'owf', owf_flux_spread),
]
for ax, (d, v), ylim, yt, ytl, lab, spread in met:
    ax.set_ylim(*ylim)
    ax.set_yticks(yt)
    ax.set_yticklabels(ytl)
    ax.plot(tnum(d), v, 'o', ms=6.5, color=C_DOT, mec='none', alpha=0.6, zorder=2)
    m = in_windows(d)
    ax.plot(tnum(d[m]), v[m], 'o', ms=7, mfc='none', mec=C_CIRC, mew=1.3, alpha=0.75, zorder=3)
    if spread is not None:
        sd, sv = unzip(spread)
        ax.plot(tnum(sd), sv, 'o', ms=6, mfc='none', mec=C_CIRC, mew=1.1, alpha=0.65, zorder=3)
    for a, b in flux_windows:
        sel = (d >= a) & (d <= b)
        if sel.sum() > 1:
            ax.plot(tnum(d[sel]), v[sel], '-', color='red', lw=2.4, zorder=4)
    ax.set_ylabel(lab, fontsize=FS_LAB, color=C_AX)
    ax.yaxis.set_label_coords(-0.02, 0.5)

od, ov = unzip(owf_scatter)
axes[3].plot(tnum(od), ov, 'o', ms=5, color=C_DOT, mec='none', alpha=0.3, zorder=2)

axes[1].tick_params(labelbottom=False)
axes[2].tick_params(labelbottom=False)
axes[3].tick_params(axis='x', pad=6)

fig.text(0.527, 0.967, 'October - December (2020)', ha='center', va='center',
         fontsize=17, color='#1a1a1a')

handles = [
    Line2D([], [], marker='o', ls='none', ms=9, mfc='none', mec='#4ba3d8', mew=1.2),
    Line2D([], [], color='red', lw=2.8),
]
leg = fig.legend(handles, ['30 min flux periods', '6RM'], loc='lower center',
                 bbox_to_anchor=(0.527, 0.0), ncol=2, frameon=True, fancybox=False,
                 edgecolor=C_AX, fontsize=12, borderaxespad=0.1, borderpad=0.3,
                 handlelength=3.9, columnspacing=1.2, handletextpad=0.35)
leg.get_frame().set_linewidth(1.0)

fig.savefig('out.png', dpi=100, facecolor='white')
